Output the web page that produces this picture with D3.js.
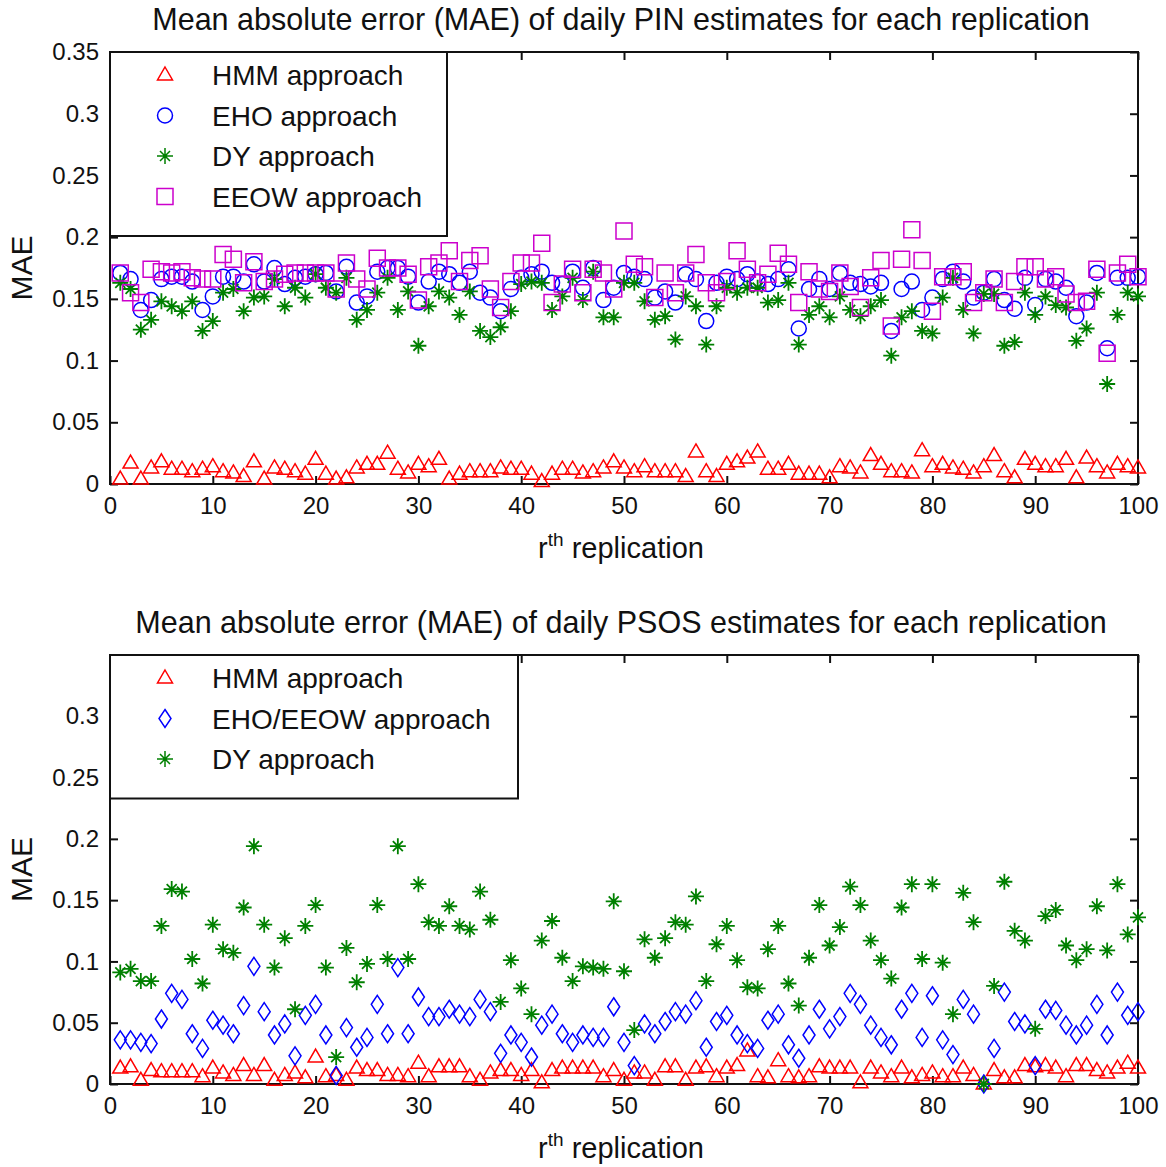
<!DOCTYPE html>
<html>
<head>
<meta charset="utf-8">
<script src="https://cdn.jsdelivr.net/npm/d3@7"></script>
<style>
  body { margin: 0; background: #fff; }
  text { font-family: "Liberation Sans", Arial, sans-serif; fill: #111; }
</style>
</head>
<body>
<div id="graf"></div>
<script>
// replication index 1..100
const replications = d3.range(1, 101)
const xTicks = [0, 10, 20, 30, 40, 50, 60, 70, 80, 90, 100]
const yTicksTop = [0, 0.05, 0.1, 0.15, 0.2, 0.25, 0.3, 0.35]
const yTicksBottom = [0, 0.05, 0.1, 0.15, 0.2, 0.25, 0.3]

// PIN panel
const pinHmm = [.004,.017,.004,.013,.018,.012,.012,.010,.012,.014,.010,.009,.006,.018,.004,.013,.012,.010,.008,.020,.008,.004,.005,.013,.016,
  .016,.025,.012,.009,.016,.014,.020,.004,.008,.010,.010,.010,.013,.012,.012,.008,.002,.008,.012,.012,.009,.010,.013,.018,.013,
  .010,.014,.010,.010,.010,.006,.026,.010,.006,.016,.018,.021,.026,.012,.012,.016,.008,.008,.008,.005,.014,.013,.009,.023,.016,
  .010,.010,.009,.027,.014,.016,.013,.012,.009,.014,.023,.010,.005,.020,.016,.014,.014,.020,.005,.021,.014,.009,.016,.014,.013]
const pinEho = [.171,.166,.141,.149,.166,.168,.168,.164,.141,.152,.168,.168,.164,.178,.164,.175,.162,.167,.168,.170,.171,.156,.176,.147,.152,
  .172,.175,.175,.168,.147,.164,.172,.170,.163,.172,.155,.151,.140,.158,.167,.170,.172,.163,.162,.172,.159,.175,.149,.159,.171,
  .168,.166,.151,.156,.147,.170,.166,.132,.163,.168,.166,.170,.164,.162,.166,.174,.126,.158,.166,.158,.171,.163,.162,.160,.163,
  .124,.158,.164,.141,.151,.166,.172,.164,.151,.155,.166,.149,.142,.167,.145,.166,.164,.159,.136,.147,.171,.110,.167,.167,.168]
const pinDy = [.163,.158,.125,.133,.148,.144,.140,.148,.124,.132,.155,.158,.140,.151,.152,.166,.144,.159,.151,.170,.159,.155,.167,.133,.141,
  .155,.167,.141,.156,.112,.144,.156,.151,.137,.156,.124,.119,.127,.140,.162,.164,.163,.141,.152,.167,.149,.172,.135,.135,.163,
  .163,.148,.133,.136,.117,.152,.144,.113,.144,.159,.155,.159,.159,.147,.149,.163,.113,.137,.144,.135,.152,.141,.136,.144,.149,
  .104,.135,.140,.124,.122,.151,.167,.141,.122,.154,.154,.112,.115,.155,.137,.152,.145,.143,.116,.126,.155,.081,.137,.155,.152]
const pinEeow = [.171,.155,.147,.174,.172,.171,.172,.167,.166,.166,.186,.182,.163,.180,.164,.166,.170,.171,.171,.171,.171,.158,.179,.166,.158,
  .183,.175,.175,.170,.149,.176,.179,.189,.164,.181,.185,.158,.143,.164,.179,.179,.195,.147,.162,.174,.155,.174,.171,.158,.205,
  .178,.176,.151,.171,.155,.171,.186,.163,.155,.164,.189,.174,.163,.170,.187,.178,.147,.172,.158,.156,.171,.160,.143,.167,.181,
  .128,.182,.206,.181,.140,.168,.168,.172,.147,.155,.166,.147,.164,.176,.176,.166,.168,.154,.147,.148,.174,.106,.171,.178,.168]

// PSOS panel
const psosHmm = [.013,.014,.003,.011,.010,.010,.010,.010,.006,.013,.009,.007,.015,.007,.015,.003,.007,.009,.005,.022,.006,.007,.003,.013,.011,
  .011,.007,.007,.006,.017,.006,.014,.014,.014,.006,.003,.009,.011,.011,.007,.011,.001,.011,.013,.013,.013,.013,.006,.011,.003,
  .009,.009,.003,.014,.014,.003,.013,.014,.006,.013,.015,.027,.006,.005,.019,.006,.005,.006,.014,.013,.013,.013,.001,.013,.009,
  .006,.013,.005,.007,.009,.006,.006,.013,.007,.000,.011,.005,.005,.015,.014,.015,.013,.006,.015,.015,.011,.009,.013,.017,.013]
const psosEhoEeow = [.036,.036,.034,.033,.053,.074,.069,.041,.029,.052,.048,.041,.064,.096,.059,.040,.049,.023,.056,.065,.040,.007,.046,.030,.038,
  .065,.041,.095,.041,.071,.055,.055,.061,.057,.055,.069,.059,.025,.040,.034,.022,.048,.057,.041,.034,.040,.038,.038,.063,.034,
  .015,.049,.041,.051,.059,.057,.068,.030,.051,.056,.040,.033,.029,.052,.057,.032,.021,.040,.061,.045,.055,.074,.065,.048,.038,
  .032,.061,.074,.038,.072,.036,.024,.069,.057,.000,.029,.075,.051,.049,.015,.061,.060,.048,.040,.048,.065,.040,.075,.056,.059]
const psosDy = [.091,.094,.084,.084,.129,.159,.157,.102,.082,.130,.110,.107,.144,.194,.130,.095,.119,.061,.129,.146,.095,.022,.111,.083,.098,
  .146,.102,.194,.102,.163,.132,.129,.145,.129,.126,.157,.134,.067,.101,.078,.057,.117,.133,.103,.084,.096,.095,.094,.149,.092,
  .044,.118,.103,.119,.132,.130,.153,.084,.114,.129,.101,.079,.078,.110,.129,.082,.064,.103,.146,.113,.128,.161,.146,.117,.101,
  .086,.144,.163,.102,.163,.099,.057,.156,.132,.000,.080,.165,.125,.117,.045,.137,.142,.113,.101,.110,.145,.109,.163,.122,.136]

const markers = {
  triangle: { path: "M0,-8L7.5,5L-7.5,5Z" },
  circle: { path: "M7.5,0A7.5,7.5 0 1 1 -7.5,0A7.5,7.5 0 1 1 7.5,0Z" },
  square: { path: "M-8,-8H8V8H-8Z" },
  diamond: { path: "M0,-9L6,0L0,9L-6,0Z" },
  star: { path: "M-8,0H8M0,-8V8M-5,-5L5,5M-5,5L5,-5" },
}

const svg = d3.select("#graf").append("svg")
  .attr("width", 1166)
  .attr("height", 1167)

function drawPanel(p) {
  const x = d3.scaleLinear().domain([0, 100]).range([110, 1138])
  const y = d3.scaleLinear().domain([0, 0.35]).range([p.bottom, p.top])
  const g = svg.append("g")

  g.append("rect")
    .attr("x", 110).attr("y", p.top)
    .attr("width", 1028).attr("height", p.bottom - p.top)
    .attr("fill", "#fff")

  const fmt = (d) => (d === 0 ? "0" : String(+d.toFixed(2)))

  // axes, ticks pointing inwards like matlab
  const ax = [
    d3.axisBottom(x).tickValues(xTicks).tickSize(-8).tickPadding(13).tickFormat(d3.format("d")),
    d3.axisTop(x).tickValues(xTicks).tickSize(-8).tickFormat(""),
    d3.axisLeft(y).tickValues(p.yTicks).tickSize(-8).tickPadding(11).tickFormat(fmt),
    d3.axisRight(y).tickValues(p.yTicks).tickSize(-8).tickFormat(""),
  ]
  const pos = [
    `translate(0,${p.bottom})`,
    `translate(0,${p.top})`,
    `translate(110,0)`,
    `translate(1138,0)`,
  ]
  ax.forEach((a, i) => {
    const ga = g.append("g").attr("transform", pos[i]).call(a)
    ga.select(".domain").remove()
    ga.selectAll(".tick line").attr("stroke", "#111").attr("stroke-width", 2)
    ga.selectAll(".tick text")
      .attr("font-size", 24)
      .attr("font-family", "Liberation Sans, Arial, sans-serif")
      .attr("fill", "#111")
  })

  g.append("rect")
    .attr("x", 110).attr("y", p.top)
    .attr("width", 1028).attr("height", p.bottom - p.top)
    .attr("fill", "none").attr("stroke", "#111").attr("stroke-width", 2)

  // points
  p.series.forEach((s) => {
    g.append("g")
      .selectAll("path")
      .data(s.values)
      .enter()
      .append("path")
      .attr("d", markers[s.marker].path)
      .attr("transform", (d, i) => `translate(${x(replications[i])},${y(d)})`)
      .attr("fill", "none")
      .attr("stroke", s.color)
      .attr("stroke-width", s.marker === "star" ? 1.8 : 1.5)
  })

  // title and labels
  g.append("text")
    .attr("x", 621).attr("y", p.top - 22)
    .attr("text-anchor", "middle")
    .attr("font-size", 30.5)
    .text(p.title)

  g.append("text")
    .attr("transform", `translate(32,${(p.top + p.bottom) / 2}) rotate(-90)`)
    .attr("text-anchor", "middle")
    .attr("font-size", 30)
    .text("MAE")

  const xl = g.append("text")
    .attr("x", 621).attr("y", p.bottom + 74)
    .attr("text-anchor", "middle")
    .attr("font-size", 29)
  xl.append("tspan").text("r")
  xl.append("tspan").attr("font-size", 19).attr("dy", -12).text("th")
  xl.append("tspan").attr("dy", 12).text(" replication")

  // legend
  const lg = g.append("g")
  lg.append("rect")
    .attr("x", 110).attr("y", p.top)
    .attr("width", p.legendW).attr("height", 22 + p.series.length * 40.5)
    .attr("fill", "#fff").attr("stroke", "#111").attr("stroke-width", 2)
  p.series.forEach((s, i) => {
    const cy = p.top + 23 + i * 40.5
    lg.append("path")
      .attr("d", markers[s.marker].path)
      .attr("transform", `translate(165,${cy})`)
      .attr("fill", "none")
      .attr("stroke", s.color)
      .attr("stroke-width", 1.5)
    lg.append("text")
      .attr("x", 212).attr("y", cy + 10)
      .attr("font-size", 28)
      .text(s.name)
  })
}

drawPanel({
  top: 52,
  bottom: 484,
  yTicks: yTicksTop,
  title: "Mean absolute error (MAE) of daily PIN estimates for each replication",
  legendW: 337,
  series: [
    { name: "HMM approach", values: pinHmm, marker: "triangle", color: "#ff0000" },
    { name: "EHO approach", values: pinEho, marker: "circle", color: "#0000ff" },
    { name: "DY approach", values: pinDy, marker: "star", color: "#008000" },
    { name: "EEOW approach", values: pinEeow, marker: "square", color: "#cc00cc" },
  ],
})

drawPanel({
  top: 655,
  bottom: 1084,
  yTicks: yTicksBottom,
  title: "Mean absolute error (MAE) of daily PSOS estimates for each replication",
  legendW: 408,
  series: [
    { name: "HMM approach", values: psosHmm, marker: "triangle", color: "#ff0000" },
    { name: "EHO/EEOW approach", values: psosEhoEeow, marker: "diamond", color: "#0000ff" },
    { name: "DY approach", values: psosDy, marker: "star", color: "#008000" },
  ],
})
</script>
</body>
</html>
